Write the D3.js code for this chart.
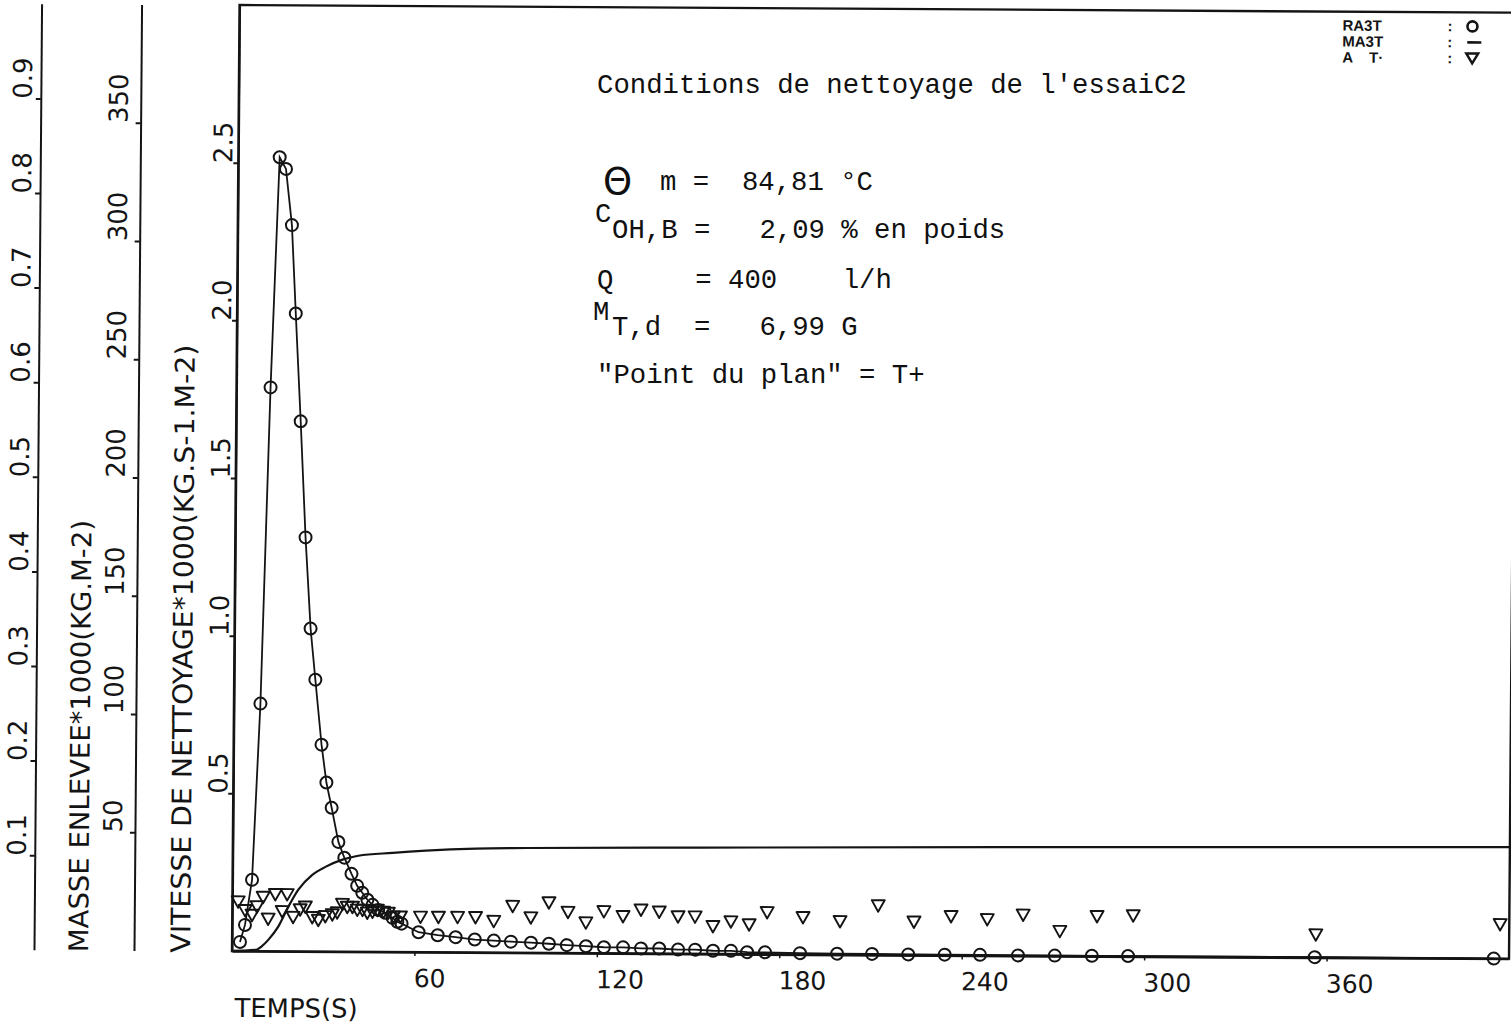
<!DOCTYPE html>
<html>
<head>
<meta charset="utf-8">
<script src="https://cdn.jsdelivr.net/npm/d3@7"></script>
<style>
  body { margin: 0; background: #fff; }
  svg { display: block; }
  .mono { font-family: "Courier New", "Liberation Mono", monospace; white-space: pre; }
</style>
</head>
<body>
<svg id="chart" width="1511" height="1035"></svg>
<script>
// ---- Cleaning test C2 : rate (RA3T), removed mass (MA3T), A T ----

// RA3T : cleaning rate *1000 (kg.s-1.m-2) versus time (s)
const timesRA = [2.6, 4.2, 6.4, 8.7, 11.2, 13.6, 15.7, 17.8, 19.3, 21.2,
  23.1, 25.0, 26.7, 28.9, 30.6, 32.4, 34.7, 36.7, 39.1, 41.0,
  42.7, 44.4, 46.1, 48.0, 50.3, 52.7, 54.3, 55.7,
  61.3, 67.6, 73.5, 79.8, 86.1, 91.7, 98.3, 104.2, 110.1, 116.4,
  122.3, 128.6, 134.5, 140.5, 146.7, 152.3, 158.2, 164.1, 169.4, 175.3,
  186.8, 199.0, 210.5, 222.4, 234.4, 246.0, 258.5, 270.6, 282.8, 294.7,
  356.1, 415.0];
const vitesseRA = [0.029, 0.083, 0.226, 0.785, 1.788, 2.518, 2.481, 2.303, 2.023, 1.681,
  1.313, 1.024, 0.862, 0.656, 0.536, 0.456, 0.348, 0.298, 0.247, 0.209,
  0.187, 0.165, 0.149, 0.133, 0.124, 0.108, 0.096, 0.090,
  0.063, 0.054, 0.048, 0.041, 0.038, 0.035, 0.032, 0.029, 0.025, 0.022,
  0.019, 0.019, 0.016, 0.016, 0.013, 0.013, 0.010, 0.010, 0.006, 0.006,
  0.004, 0.003, 0.003, 0.002, 0.002, 0.002, 0.001, 0.001, 0.001, 0.001,
  0.001, 0.000];

// MA3T : removed mass *1000 (kg.m-2) versus time (s)
const timesMA = [0, 7.6, 9.9, 11.9, 15.1, 18.4, 21.6, 26.2, 30.5, 36.1,
  41.3, 52.6, 63.5, 80.0, 96.5, 153.6, 252.4, 420];
const masseMA = [0, 0.5, 2.2, 4.8, 10.3, 18.8, 26.0, 32.4, 35.8, 38.9,
  40.6, 41.9, 42.9, 43.9, 44.3, 44.9, 45.9, 47.2];

// A T : values on the 0 - 1 scale versus time (s)
const timesAT = [1.9, 4.2, 6.5, 8.1, 10.1, 11.8, 14.1, 16.4, 18.0, 20.0,
  22.3, 24.0, 26.3, 28.3, 30.6, 32.9, 34.5, 36.2, 37.8, 39.5,
  41.1, 42.8, 44.4, 46.1, 47.7, 49.7, 51.3, 53.0, 55.3,
  61.9, 67.8, 74.1, 80.0, 86.0, 92.2, 98.2, 104.1, 110.4, 116.3,
  122.2, 128.5, 134.4, 140.4, 146.6, 152.2, 158.1, 164.0, 170.0, 175.9,
  187.7, 199.9, 212.4, 224.2, 236.4, 248.3, 260.1, 272.2, 284.4, 296.3,
  356.4, 417.0];
const valuesAT = [0.052, 0.043, 0.038, 0.047, 0.057, 0.034, 0.060, 0.042, 0.060, 0.036,
  0.044, 0.047, 0.036, 0.033, 0.037, 0.039, 0.041, 0.050, 0.047, 0.047,
  0.044, 0.044, 0.041, 0.042, 0.044, 0.042, 0.041, 0.037, 0.037,
  0.037, 0.037, 0.037, 0.037, 0.033, 0.049, 0.037, 0.053, 0.043, 0.032,
  0.044, 0.039, 0.046, 0.044, 0.039, 0.039, 0.029, 0.034, 0.031, 0.044,
  0.039, 0.035, 0.052, 0.035, 0.041, 0.038, 0.043, 0.026, 0.042, 0.043,
  0.024, 0.036];

// Tick values of the four axes
const timeTicks = [60, 120, 180, 240, 300, 360];
const vitesseTicks = [0.5, 1.0, 1.5, 2.0, 2.5];
const masseTicks = [50, 100, 150, 200, 250, 300, 350];
const ratioTicks = [0.1, 0.2, 0.3, 0.4, 0.5, 0.6, 0.7, 0.8, 0.9];

// Legend entries (name, marker kind)
const legendNames = ["RA3T", "MA3T", "A    T\u00B7"];
const legendKinds = ["circle", "line", "triangle"];

// Typed test conditions
const condTitle = "Conditions de nettoyage de l'essaiC2";
const condTemp = "m =  84,81 \u00B0C";
const condConc = "OH,B =   2,09 % en poids";
const condFlow = "Q     = 400    l/h";
const condMass = "T,d  =   6,99 G";
const condPoint = "\"Point du plan\" = T+";

// ---------------------------------------------------------------
const W = 1511, H = 1035;
const ink = "#141414";
const plotFont = "'DejaVu Sans', 'Liberation Sans', sans-serif";
const plot = { left: 232, right: 1509, top: 5, bottom: 951 };

const x = d3.scaleLinear().domain([0, 420]).range([plot.left, plot.right]);
const yV = d3.scaleLinear().domain([0, 3]).range([plot.bottom, plot.top]);
const yM = d3.scaleLinear().domain([0, 400]).range([plot.bottom, plot.top]);
const yR = d3.scaleLinear().domain([0, 1]).range([plot.bottom, plot.top]);

const svg = d3.select("#chart");
svg.append("rect").attr("width", W).attr("height", H).attr("fill", "#fff");

// The plotted sheet is slightly skewed on the page
const k1 = 0.008, k2 = 0.006;
const sheet = svg.append("g")
  .attr("transform", `matrix(1,${k2},${-k1},1,${k1 * plot.bottom},${-k2 * plot.left})`);

// Frame
sheet.append("rect")
  .attr("x", plot.left).attr("y", plot.top)
  .attr("width", plot.right - plot.left).attr("height", plot.bottom - plot.top)
  .attr("fill", "none").attr("stroke", ink).attr("stroke-width", 2.4);

// Vertical axes with labels written upward from each tick
function verticalAxis(scale, ticks, fmt, xPos, labelOffset) {
  const g = sheet.append("g")
    .attr("transform", `translate(${xPos},0)`)
    .call(d3.axisLeft(scale).tickValues(ticks).tickSize(5).tickSizeOuter(0).tickFormat(fmt));
  g.attr("font-family", plotFont).attr("font-size", 26);
  g.select(".domain").attr("stroke", ink).attr("stroke-width", 2);
  g.selectAll(".tick line").attr("stroke", ink).attr("stroke-width", 2);
  g.selectAll(".tick text")
    .attr("x", null).attr("y", null).attr("dy", null)
    .attr("fill", ink)
    .attr("text-anchor", "start")
    .attr("transform", `translate(${labelOffset},0) rotate(-90)`);
  return g;
}
verticalAxis(yR, ratioTicks, d3.format(".1f"), 34, -9);
verticalAxis(yM, masseTicks, d3.format("d"), 134, -13);
verticalAxis(yV, vitesseTicks, d3.format(".1f"), plot.left, -6);

// Time axis
const xg = sheet.append("g")
  .attr("transform", `translate(0,${plot.bottom})`)
  .call(d3.axisBottom(x).tickValues(timeTicks).tickSize(4).tickSizeOuter(0));
xg.attr("font-family", plotFont).attr("font-size", 25);
xg.select(".domain").attr("stroke", ink).attr("stroke-width", 2.4);
xg.selectAll(".tick line").attr("stroke", ink).attr("stroke-width", 1.5);
xg.selectAll(".tick text")
  .attr("fill", ink).attr("text-anchor", "start")
  .attr("x", -1).attr("y", 35).attr("dy", null);

// Axis titles
function title(str, tx, ty, len, size, rotate) {
  sheet.append("text")
    .attr("transform", `translate(${tx},${ty})` + (rotate ? " rotate(-90)" : ""))
    .attr("font-family", plotFont).attr("font-size", size).attr("fill", ink)
    .attr("textLength", len).attr("lengthAdjust", "spacingAndGlyphs")
    .text(str);
}
title("MASSE ENLEVEE*1000(KG.M-2)", 88, 953, 432, 27, true);
title("VITESSE DE NETTOYAGE*1000(KG.S-1.M-2)", 190, 953, 608, 27, true);
title("TEMPS(S)", 235, 1017, 123, 26, false);

// MA3T curve
const masseLine = d3.line()
  .x((d, i) => x(timesMA[i])).y(d => yM(d))
  .curve(d3.curveMonotoneX);
sheet.append("path")
  .attr("d", masseLine(masseMA))
  .attr("fill", "none").attr("stroke", ink).attr("stroke-width", 2.2);

// RA3T curve and its circles
const raData = d3.zip(timesRA, vitesseRA);
sheet.append("path")
  .attr("d", d3.line().x(d => x(d[0])).y(d => yV(d[1]))(raData))
  .attr("fill", "none").attr("stroke", ink).attr("stroke-width", 1.8);
sheet.selectAll("circle.ra").data(raData).join("circle")
  .attr("class", "ra")
  .attr("cx", d => x(d[0])).attr("cy", d => yV(d[1])).attr("r", 6)
  .attr("fill", "none").attr("stroke", ink).attr("stroke-width", 2);

// A T triangles (pointing down)
const tri = "M-6.5,-5.5L6.5,-5.5L0,6Z";
sheet.selectAll("path.at").data(d3.zip(timesAT, valuesAT)).join("path")
  .attr("class", "at")
  .attr("d", tri)
  .attr("transform", d => `translate(${x(d[0])},${yR(d[1])})`)
  .attr("fill", "none").attr("stroke", ink).attr("stroke-width", 1.9)
  .attr("stroke-linejoin", "round");

// Legend
const legend = sheet.append("g").attr("font-family", "'Liberation Sans', Arial, sans-serif")
  .attr("font-weight", "bold").attr("font-size", 15).attr("fill", ink);
legendNames.forEach((name, i) => {
  const by = 24 + i * 16;
  legend.append("text").attr("x", 1335).attr("y", by)
    .attr("xml:space", "preserve").style("white-space", "pre").text(name);
  legend.append("text").attr("x", 1440).attr("y", by).text(":");
  const cy = by - 5;
  const kind = legendKinds[i];
  if (kind === "circle") {
    legend.append("circle").attr("cx", 1465).attr("cy", cy).attr("r", 5)
      .attr("fill", "none").attr("stroke", ink).attr("stroke-width", 2.6);
  } else if (kind === "line") {
    legend.append("line").attr("x1", 1460).attr("x2", 1474).attr("y1", cy).attr("y2", cy)
      .attr("stroke", ink).attr("stroke-width", 2.6);
  } else {
    legend.append("path").attr("d", "M-6,-5L6,-5L0,5Z")
      .attr("transform", `translate(1465,${cy})`)
      .attr("fill", "none").attr("stroke", ink).attr("stroke-width", 2.4);
  }
});

// Typed conditions block
const notes = svg.append("g").attr("fill", "#101010");
function mono(str, tx, ty) {
  notes.append("text").attr("class", "mono")
    .attr("xml:space", "preserve")
    .attr("x", tx).attr("y", ty).attr("font-size", 27.3).text(str);
}
mono(condTitle, 597, 93);
notes.append("text").attr("x", 603).attr("y", 194)
  .attr("font-family", "'DejaVu Sans', sans-serif").attr("font-size", 37).text("\u0398");
mono(condTemp, 660, 190);
mono("C", 595, 222);
mono(condConc, 612, 238);
mono(condFlow, 597, 288);
mono("M", 593, 320);
mono(condMass, 612, 335);
mono(condPoint, 597, 383);
</script>
</body>
</html>
